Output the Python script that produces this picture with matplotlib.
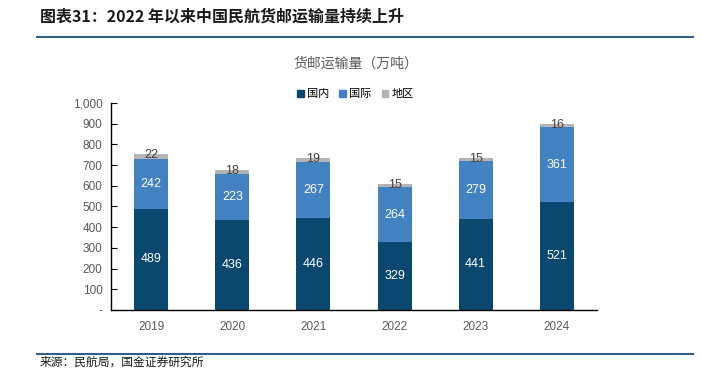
import matplotlib
matplotlib.use("Agg")
import matplotlib.pyplot as plt
from matplotlib.lines import Line2D
from matplotlib.patches import Patch
import numpy as np

plt.rcParams['font.family'] = ['Liberation Sans', 'Noto Sans CJK SC', 'DejaVu Sans']

years = ["2019", "2020", "2021", "2022", "2023", "2024"]
domestic = [489, 436, 446, 329, 441, 521]
international = [242, 223, 267, 264, 279, 361]
region = [22, 18, 19, 15, 15, 16]
yticks = [0, 100, 200, 300, 400, 500, 600, 700, 800, 900, 1000]
ytick_labels = ["-", "100", "200", "300", "400", "500", "600", "700", "800", "900", "1,000"]

c_dom = "#0B4870"
c_int = "#4282C2"
c_reg = "#B4B4B4"

fig = plt.figure(figsize=(7.01, 3.69), dpi=100)
ax = fig.add_axes([0.158, 0.160, 0.694, 0.561])

x = np.arange(len(years))
w = 0.42
dom = np.array(domestic)
intl = np.array(international)
reg = np.array(region)
ax.bar(x, dom, w, color=c_dom, zorder=2)
ax.bar(x, intl, w, bottom=dom, color=c_int, zorder=2)
ax.bar(x, reg, w, bottom=dom + intl, color=c_reg, zorder=2)

for i in range(len(x)):
    ax.text(x[i], dom[i] / 2, str(dom[i]), ha='center', va='center', color='white', fontsize=9)
    ax.text(x[i], dom[i] + intl[i] / 2, str(intl[i]), ha='center', va='center', color='white', fontsize=9)
    ax.text(x[i], dom[i] + intl[i] + reg[i] - 4, str(reg[i]), ha='center', va='center', color='#404040', fontsize=9)

ax.set_xlim(-0.5, 5.5)
ax.set_ylim(0, 1000)
ax.set_yticks(yticks)
ax.set_yticklabels(ytick_labels)
ax.set_xticks(x)
ax.set_xticklabels(years)
ax.tick_params(axis='y', direction='in', length=4, color='black', labelsize=8.5, labelcolor='#595959', pad=6)
ax.tick_params(axis='x', length=0, labelsize=8.5, labelcolor='#595959', pad=8)
for s in ['top', 'right']:
    ax.spines[s].set_visible(False)
for s in ['left', 'bottom']:
    ax.spines[s].set_color('black')
    ax.spines[s].set_linewidth(1.0)

fig.text(0.507, 0.828, "货邮运输量（万吨）", ha='center', va='center', fontsize=10, color='#595959',
         family=['Noto Sans CJK SC'])

handles = [Patch(color=c_dom), Patch(color=c_int), Patch(color=c_reg)]
fig.legend(handles, ["国内", "国际", "地区"], loc='center', bbox_to_anchor=(0.507, 0.745), ncol=3,
           frameon=False, handlelength=0.6, handleheight=0.6, handletextpad=0.3,
           columnspacing=0.9, prop={'family': ['Noto Sans CJK SC'], 'size': 8})

fig.text(0.057, 0.955, "图表31：2022 年以来中国民航货邮运输量持续上升", ha='left', va='center',
         fontsize=11.5, fontweight='bold', color='#1a1a1a', style='italic',
         family=['Noto Sans CJK SC', 'DejaVu Sans'])
fig.add_artist(Line2D([0.053, 0.989], [0.900, 0.900], transform=fig.transFigure, color='#2F5F8A', lw=1.5))
fig.add_artist(Line2D([0.053, 0.989], [0.041, 0.041], transform=fig.transFigure, color='#2F5F8A', lw=1.5))
fig.text(0.057, 0.0, "来源：民航局，国金证券研究所", ha='left', va='bottom', fontsize=8.5, color='#1a1a1a',
         family=['Noto Sans CJK SC'])

fig.savefig("out.png", dpi=100)
